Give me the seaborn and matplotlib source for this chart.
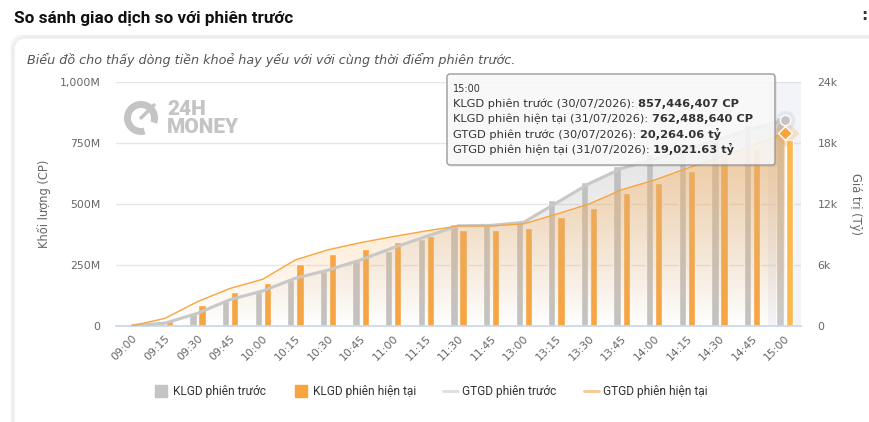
import numpy as np
import pandas as pd
import matplotlib
matplotlib.use("Agg")
import matplotlib.pyplot as plt
import matplotlib.transforms as mtransforms
import seaborn as sns
from matplotlib.patches import FancyBboxPatch, Wedge
from matplotlib.lines import Line2D
from matplotlib.text import Annotation
from matplotlib.colors import to_rgb

# --- data ---
times = ["09:00", "09:15", "09:30", "09:45", "10:00", "10:15", "10:30",
         "10:45", "11:00", "11:15", "11:30", "11:45", "13:00", "13:15",
         "13:30", "13:45", "14:00", "14:15", "14:30", "14:45", "15:00"]
# volume, million shares
klgd_prev = [2, 15, 52, 103, 138, 190, 224, 265, 306, 357, 417, 417, 431,
             516, 591, 655, 705, 750, 790, 825, 857.446407]
klgd_cur = [1, 25, 86, 141, 177, 253, 294, 316, 345, 368, 395, 394, 402,
            447, 484, 546, 587, 636, 690, 730, 762.48864]
# value, thousand billion VND
gtgd_prev = [0.05, 0.28, 1.25, 2.6, 3.45, 4.7, 5.5, 6.5, 7.7, 8.8, 9.86,
             9.9, 10.2, 12.1, 14.0, 15.5, 16.4, 17.4, 18.4, 19.4, 20.26406]
gtgd_cur = [0.03, 0.75, 2.4, 3.7, 4.6, 6.5, 7.5, 8.2, 8.8, 9.35, 9.84,
            9.84, 10.05, 11.0, 12.0, 13.4, 14.35, 15.5, 16.6, 17.7, 19.02163]

vol_ticks = [0, 250, 500, 750, 1000]
vol_labels = ["0", "250M", "500M", "750M", "1,000M"]
val_ticks = [0, 6, 12, 18, 24]
val_labels = ["0", "6k", "12k", "18k", "24k"]
series_names = ["KLGD phiên trước", "KLGD phiên hiện tại",
                "GTGD phiên trước", "GTGD phiên hiện tại"]
prev_date = "30/07/2026"
cur_date = "31/07/2026"

GRAY = "#C4C4C4"
ORANGE = "#F8A540"
TXT = "#666666"

W, H = 870, 422

sns.set_theme(style="white")
plt.rcParams["font.family"] = ["DejaVu Sans"]

fig = plt.figure(figsize=(W / 100, H / 100), dpi=100)
fig.patch.set_facecolor("white")
# pixel coords, origin top-left
pix = mtransforms.Affine2D().scale(1 / W, -1 / H).translate(0, 1) + fig.transFigure

# card with a soft shadow
for i, a in enumerate([0.025, 0.035, 0.05]):
    d = 3 - i
    fig.add_artist(FancyBboxPatch((14 - d, 38 - d), 900 + 2 * d, 420,
                                  boxstyle="round,pad=0,rounding_size=12",
                                  fc="none", ec=(0, 0, 0, a), lw=1.2,
                                  transform=pix, zorder=-6))
fig.add_artist(FancyBboxPatch((14, 38), 900, 420,
                              boxstyle="round,pad=0,rounding_size=12",
                              fc="white", ec="#ececec", lw=1,
                              transform=pix, zorder=-5))

fig.text(14, 18, "So sánh giao dịch so với phiên trước", transform=pix,
         fontsize=12.3, fontweight="bold", family="Roboto", color="#111111",
         va="center")
fig.text(861, 15, ":", transform=pix, fontsize=11, fontweight="bold",
         color="#333333", va="center")
fig.text(27, 60, "Biểu đồ cho thấy dòng tiền khoẻ hay yếu với với cùng "
         "thời điểm phiên trước.", transform=pix, fontsize=9.2,
         style="italic", color="#555555", va="center")

# watermark logo
wm = "#C4C4C4"
fig.add_artist(Wedge((141, 118), 17, 75, 380, width=7, transform=pix,
                     fc=wm, ec="none", zorder=-1))
fig.add_artist(Line2D([141, 154], [118, 105], color=wm, lw=2.5,
                      transform=pix, zorder=-1))
fig.text(167, 118.5, "24H\nMONEY", transform=pix, fontsize=15,
         fontweight="black", family="Roboto", color=wm, va="center",
         linespacing=0.92, zorder=-1)

# --- axes ---
ax = fig.add_axes([116 / W, 1 - 326 / H, 685 / W, 244 / H])
ax.set_facecolor("none")
n = len(times)
xpos = np.arange(n)

ax.axvspan(n - 1.5, n - 0.5, color="#ccd6eb", alpha=0.25, lw=0, zorder=1)

bars = pd.DataFrame({
    "time": times * 2,
    "vol": klgd_prev + klgd_cur,
    "series": [series_names[0]] * n + [series_names[1]] * n,
})
sns.barplot(data=bars, x="time", y="vol", hue="series",
            hue_order=series_names[:2], palette=[GRAY, ORANGE],
            width=0.56, gap=0.2, saturation=1, legend=False, ax=ax,
            zorder=2)
# hovered point is lighter
ax.containers[1][n - 1].set_facecolor("#FDB84E")
ax.containers[0][n - 1].set_facecolor("#CBCBCB")

ax.set_xlim(-0.5, n - 0.5)
ax.set_ylim(0, 1000)
ax.set_yticks(vol_ticks)
ax.set_yticklabels(vol_labels)
ax.grid(axis="y", color="#e6e6e6", lw=1)
ax.grid(axis="x", visible=False)
ax.set_axisbelow(True)
for s in ["top", "left", "right"]:
    ax.spines[s].set_visible(False)
ax.spines["bottom"].set_color("#ccd6eb")
ax.tick_params(axis="y", length=0, pad=11, labelsize=7.8, labelcolor=TXT)
ax.tick_params(axis="x", length=0, pad=5, labelsize=7.8, labelcolor=TXT)
for lab in ax.get_xticklabels():
    lab.set_rotation(45)
    lab.set_ha("right")
    lab.set_va("top")
    lab.set_rotation_mode("anchor")
ax.set_xlabel("")
ax.set_ylabel("Khối lượng (CP)", color=TXT, fontsize=8.3, va="center")
ax.yaxis.set_label_coords((44 - 116) / 685, 0.5)

ax2 = ax.twinx()


def gradient_area(axis, xs, ys, color, a_top):
    poly = axis.fill_between(xs, ys, 0, facecolor="none", edgecolor="none")
    rgba = np.zeros((200, 1, 4))
    rgba[..., :3] = to_rgb(color)
    rgba[..., 3] = np.linspace(a_top, 0.0, 200)[:, None]
    im = axis.imshow(rgba, aspect="auto", origin="upper", zorder=2,
                     extent=[xs[0], xs[-1], 0, max(ys)])
    im.set_clip_path(poly.get_paths()[0], transform=axis.transData)


gradient_area(ax2, xpos, gtgd_prev, "#B8B8B8", 0.45)
gradient_area(ax2, xpos, gtgd_cur, "#FBAE55", 0.5)

sns.lineplot(x=xpos, y=gtgd_prev, color="#C8C8C8", lw=2.2, ax=ax2, zorder=3)
sns.lineplot(x=xpos, y=gtgd_cur, color=ORANGE, lw=1, ax=ax2, zorder=4)

# hover markers at the last point
ax2.scatter([xpos[-1]], [gtgd_prev[-1]], s=200, color="#C4C4C4", alpha=0.25,
            lw=0, zorder=5)
ax2.scatter([xpos[-1]], [gtgd_prev[-1]], s=55, color="#C4C4C4",
            edgecolor="white", lw=1, zorder=6)
ax2.scatter([xpos[-1]], [gtgd_cur[-1]], s=200, marker="D", color=ORANGE,
            alpha=0.25, lw=0, zorder=5)
ax2.scatter([xpos[-1]], [gtgd_cur[-1]], s=50, marker="D", color=ORANGE,
            edgecolor="white", lw=1, zorder=6)

ax2.set_xlim(-0.5, n - 0.5)
ax2.set_ylim(0, 24)
ax2.set_yticks(val_ticks)
ax2.set_yticklabels(val_labels)
ax2.grid(False)
for s in ax2.spines.values():
    s.set_visible(False)
ax2.tick_params(axis="y", length=0, pad=12, labelsize=7.8, labelcolor=TXT)
ax2.set_ylabel("Giá trị (Tỷ)", color=TXT, fontsize=8.3, rotation=270,
               va="center")
ax2.yaxis.set_label_coords((856 - 116) / 685, 0.5)

# --- tooltip ---
fig.add_artist(FancyBboxPatch((449, 76), 328, 91,
                              boxstyle="round,pad=0,rounding_size=3",
                              fc=(0, 0, 0, 0.06), ec="none", transform=pix,
                              zorder=9))
fig.add_artist(FancyBboxPatch((447, 74), 328, 91,
                              boxstyle="round,pad=0,rounding_size=3",
                              fc=(0.98, 0.98, 0.98, 0.86), ec="#9a9a9a",
                              lw=1, transform=pix, zorder=10))
fig.text(453, 89, times[-1], transform=pix, fontsize=7, color="#333333",
         va="center", zorder=11)
rows = [
    (f"KLGD phiên trước ({prev_date}): ",
     f"{klgd_prev[-1] * 1e6:,.0f} CP"),
    (f"KLGD phiên hiện tại ({cur_date}): ",
     f"{klgd_cur[-1] * 1e6:,.0f} CP"),
    (f"GTGD phiên trước ({prev_date}): ",
     f"{gtgd_prev[-1] * 1000:,.2f} tỷ"),
    (f"GTGD phiên hiện tại ({cur_date}): ",
     f"{gtgd_cur[-1] * 1000:,.2f} tỷ"),
]
for i, (lbl, val) in enumerate(rows):
    t = fig.text(453, 104 + i * 15.2, lbl, transform=pix, fontsize=8.2,
                 color="#333333", va="center", zorder=11)
    a = Annotation(val, xy=(1, 0), xycoords=t, va="bottom", ha="left",
                   fontsize=8.2, fontweight="bold", color="#333333",
                   zorder=11)
    fig.add_artist(a)

# --- legend ---
handles = [
    Line2D([], [], marker="s", ls="none", ms=9, color=GRAY),
    Line2D([], [], marker="s", ls="none", ms=9, color=ORANGE),
    Line2D([], [], color="#dedede", lw=2),
    Line2D([], [], color="#F6C894", lw=2),
]
fig.legend(handles, series_names, loc="center",
           bbox_to_anchor=(431 / W, 1 - 392 / H), ncol=4, frameon=False,
           handlelength=1.2, handletextpad=0.4, columnspacing=2.3,
           prop={"family": "Roboto", "size": 8.6}, labelcolor="#333333")

fig.savefig("out.png", dpi=100, facecolor="white")
